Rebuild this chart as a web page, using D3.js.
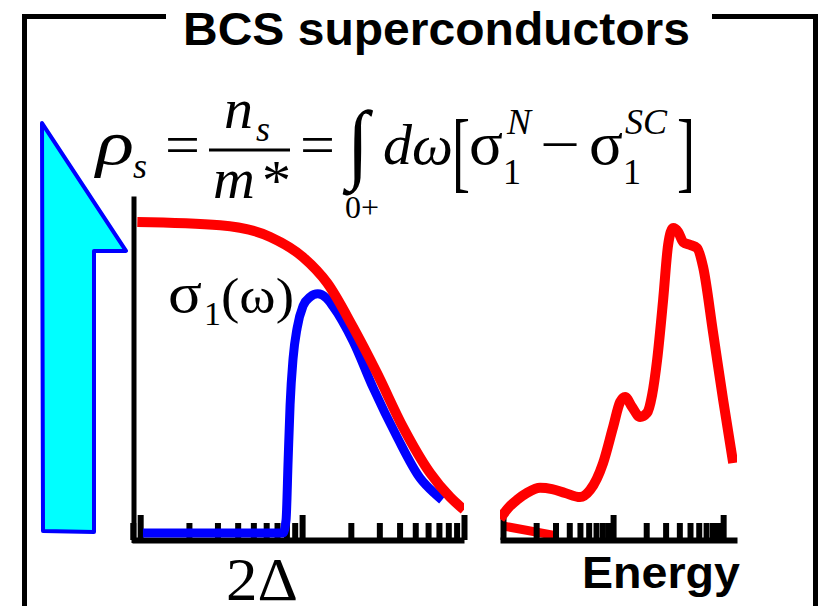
<!DOCTYPE html>
<html>
<head>
<meta charset="utf-8">
<script src="https://cdn.jsdelivr.net/npm/d3@7"></script>
<style>
  html, body { margin: 0; padding: 0; background: #fff; }
  svg { display: block; }
</style>
</head>
<body>
<script>
// Normal-state optical conductivity sigma1^N (Drude) vs frequency
const normalOmega = [0.96, 3.12, 6.35, 10.1, 14.3, 20.6, 29.0, 42.0, 61.7, 82, 100];
const normalSigma = [1.0, 0.99, 0.953, 0.89, 0.808, 0.67, 0.525, 0.355, 0.211, 0.135, 0.095];

// Superconducting-state conductivity sigma1^SC: zero below the gap 2Δ
const scOmega = [1.04, 2.7, 7.63, 7.96, 8.2, 8.43, 8.8, 9.32, 10.14, 11.2, 12.5, 14.1, 15.5, 20.6, 27.5, 38.6, 53.5, 66.3, 73.2];
const scSigma = [0.022, 0.022, 0.022, 0.063, 0.252, 0.425, 0.572, 0.667, 0.736, 0.764, 0.774, 0.761, 0.735, 0.626, 0.478, 0.324, 0.195, 0.145, 0.126];

// Right panel: spectrum vs energy
const specEnergy = [0.939, 1.11, 1.34, 1.653, 2.17, 2.79, 3.661, 5.012, 6.18, 8.111, 10, 11.58, 12.86, 14.88, 17.6, 20.38, 22.62, 25.12, 28.49, 31.62, 35.13, 38.99, 43.29, 50.12, 58.02, 65.79, 81.11, 100, 123.3];
const specSigma  = [0.066, 0.10, 0.126, 0.148, 0.164, 0.160, 0.148, 0.135, 0.157, 0.242, 0.355, 0.434, 0.45, 0.418, 0.387, 0.40, 0.456, 0.566, 0.755, 0.928, 0.981, 0.969, 0.937, 0.928, 0.918, 0.858, 0.651, 0.44, 0.242];
const tailEnergy = [1.0, 3.097];
const tailSigma  = [0.044, 0.013];

const titleText = "BCS superconductors";
const gapLabel = "2Δ";
const energyLabel = "Energy";

const W = 823, H = 606;
const svg = d3.select("body").append("svg").attr("width", W).attr("height", H);

const serif = "'Liberation Serif','Times New Roman',serif";
const sans = "'Liberation Sans',Arial,Helvetica,sans-serif";

// Scales
const xL = d3.scaleLog().domain([0.89, 100]).range([132, 464]);
const xR = d3.scaleLog().domain([0.939, 133.6]).range([500, 737]);
const y = d3.scaleLinear().domain([0, 1]).range([540, 222]);

const zip = (a, b) => a.map((v, i) => [v, b[i]]);

// Outer frame with a gap for the title
svg.append("path")
  .attr("d", "M166,16.5H24.5V606M712,16.5H815.5V606")
  .attr("fill", "none").attr("stroke", "#000").attr("stroke-width", 5);

svg.append("text")
  .attr("x", 183).attr("y", 45)
  .attr("font-family", sans).attr("font-weight", "bold").attr("font-size", 46)
  .attr("textLength", 507).attr("lengthAdjust", "spacingAndGlyphs")
  .text(titleText);

// Superfluid weight arrow
const arrowLeft = 42, arrowShaft = 94, arrowHead = 126;
const arrowPts = [
  [arrowLeft, y(1.311)], [arrowHead, y(0.909)], [arrowShaft, y(0.909)],
  [arrowShaft, y(0.025)], [arrowLeft + 1, y(0.028)]
];
svg.append("path")
  .attr("d", d3.line()(arrowPts) + "Z")
  .attr("fill", "#00FFFF").attr("stroke", "#0000FF").attr("stroke-width", 4)
  .attr("stroke-linejoin", "round");

// Clip regions for the two panels
const defs = svg.append("defs");
defs.append("clipPath").attr("id", "clipL").append("rect")
  .attr("x", xL.range()[0]).attr("y", 0).attr("width", xL.range()[1] - xL.range()[0]).attr("height", H);
defs.append("clipPath").attr("id", "clipR").append("rect")
  .attr("x", xR.range()[0]).attr("y", 0).attr("width", xR.range()[1] - xR.range()[0]).attr("height", H);

// Log axes with inward ticks, tall at each decade
function drawAxis(scale) {
  const g = svg.append("g").attr("transform", `translate(0,${y(0)})`)
    .call(d3.axisBottom(scale).tickSizeInner(-17).tickSizeOuter(0).tickFormat(""));
  g.select(".domain").attr("stroke", "#000").attr("stroke-width", 6);
  g.selectAll(".tick line")
    .attr("stroke", "#000").attr("stroke-width", 6)
    .attr("y2", d => Math.abs(Math.log10(d) - Math.round(Math.log10(d))) < 1e-6 ? -25 : -17);
  return g;
}

// Left vertical axis
svg.append("line")
  .attr("x1", 134).attr("x2", 134)
  .attr("y1", y(0) + 3).attr("y2", y(1.08))
  .attr("stroke", "#000").attr("stroke-width", 5);

const lineL = d3.line().x(d => xL(d[0])).y(d => y(d[1])).curve(d3.curveMonotoneX);
const lineR = d3.line().x(d => xR(d[0])).y(d => y(d[1])).curve(d3.curveMonotoneX);

// Right panel tail under the axis
svg.append("path")
  .attr("clip-path", "url(#clipR)")
  .attr("d", d3.line().x(d => xR(d[0])).y(d => y(d[1]))(zip(tailEnergy, tailSigma)))
  .attr("fill", "none").attr("stroke", "#FF0000").attr("stroke-width", 9);

drawAxis(xL);
drawAxis(xR);

// sigma1^SC (blue) under sigma1^N (red)
svg.append("path")
  .attr("clip-path", "url(#clipL)")
  .attr("d", lineL(zip(scOmega, scSigma)))
  .attr("fill", "none").attr("stroke", "#0000FF").attr("stroke-width", 9)
  .attr("stroke-linejoin", "round");

svg.append("path")
  .attr("clip-path", "url(#clipL)")
  .attr("d", lineL(zip(normalOmega, normalSigma)))
  .attr("fill", "none").attr("stroke", "#FF0000").attr("stroke-width", 10)
  .attr("stroke-linejoin", "round");

svg.append("path")
  .attr("clip-path", "url(#clipR)")
  .attr("d", lineR(zip(specEnergy, specSigma)))
  .attr("fill", "none").attr("stroke", "#FF0000").attr("stroke-width", 10)
  .attr("stroke-linejoin", "round");

// Labels
svg.append("text")
  .attr("x", 226).attr("y", 600)
  .attr("font-family", serif).attr("font-size", 62)
  .attr("textLength", 72).attr("lengthAdjust", "spacingAndGlyphs")
  .text(gapLabel);

svg.append("text")
  .attr("x", 582).attr("y", 588)
  .attr("font-family", sans).attr("font-weight", "bold").attr("font-size", 45)
  .attr("textLength", 158).attr("lengthAdjust", "spacingAndGlyphs")
  .text(energyLabel);

// sigma_1(omega) label
const sig = svg.append("g").attr("font-family", serif);
sig.append("text").attr("x", 168).attr("y", 312).attr("font-size", 56)
  .attr("textLength", 34).attr("lengthAdjust", "spacingAndGlyphs").text("σ");
sig.append("text").attr("x", 204).attr("y", 325).attr("font-size", 34).text("1");
sig.append("text").attr("x", 221).attr("y", 313).attr("font-size", 50)
  .attr("textLength", 73).attr("lengthAdjust", "spacingAndGlyphs").text("(ω)");

// Sum rule formula
const f = svg.append("g").attr("font-family", serif).attr("fill", "#000");
function t(x, yy, size, str, opts = {}) {
  const e = f.append("text").attr("x", x).attr("y", yy).attr("font-size", size).text(str);
  if (opts.italic) e.attr("font-style", "italic");
  if (opts.len) e.attr("textLength", opts.len).attr("lengthAdjust", "spacingAndGlyphs");
  return e;
}
const fs = 58, fsSub = 36;
t(96, 164, 64, "ρ", { italic: true, len: 38 });
t(133, 178, fsSub, "s", { italic: true });
t(165, 164, fs, "=", { len: 35 });
t(224, 128, fs, "n", { italic: true });
t(256, 141, fsSub, "s", { italic: true });
f.append("line").attr("x1", 209).attr("x2", 290).attr("y1", 150).attr("y2", 150)
  .attr("stroke", "#000").attr("stroke-width", 3);
t(213, 198, fs, "m", { italic: true });
t(262, 200, fs, "*");
t(300, 164, fs, "=", { len: 35 });
t(347, 172, 88, "∫", { len: 22 });
t(345, 218, 31, "0+", { len: 34 });
t(383, 164, fs, "d", { italic: true });
t(412, 164, fs, "ω", { italic: true });
t(452, 181, 88, "[", { len: 18 });
t(469, 164, 62, "σ", { len: 34 });
t(503, 184, fsSub, "1");
t(507, 134, fsSub, "N", { italic: true });
t(540, 164, fs, "−", { len: 40 });
t(589, 164, 62, "σ", { len: 34 });
t(623, 184, fsSub, "1");
t(625, 134, fsSub, "SC", { italic: true, len: 42 });
t(677, 181, 88, "]", { len: 18 });
</script>
</body>
</html>
